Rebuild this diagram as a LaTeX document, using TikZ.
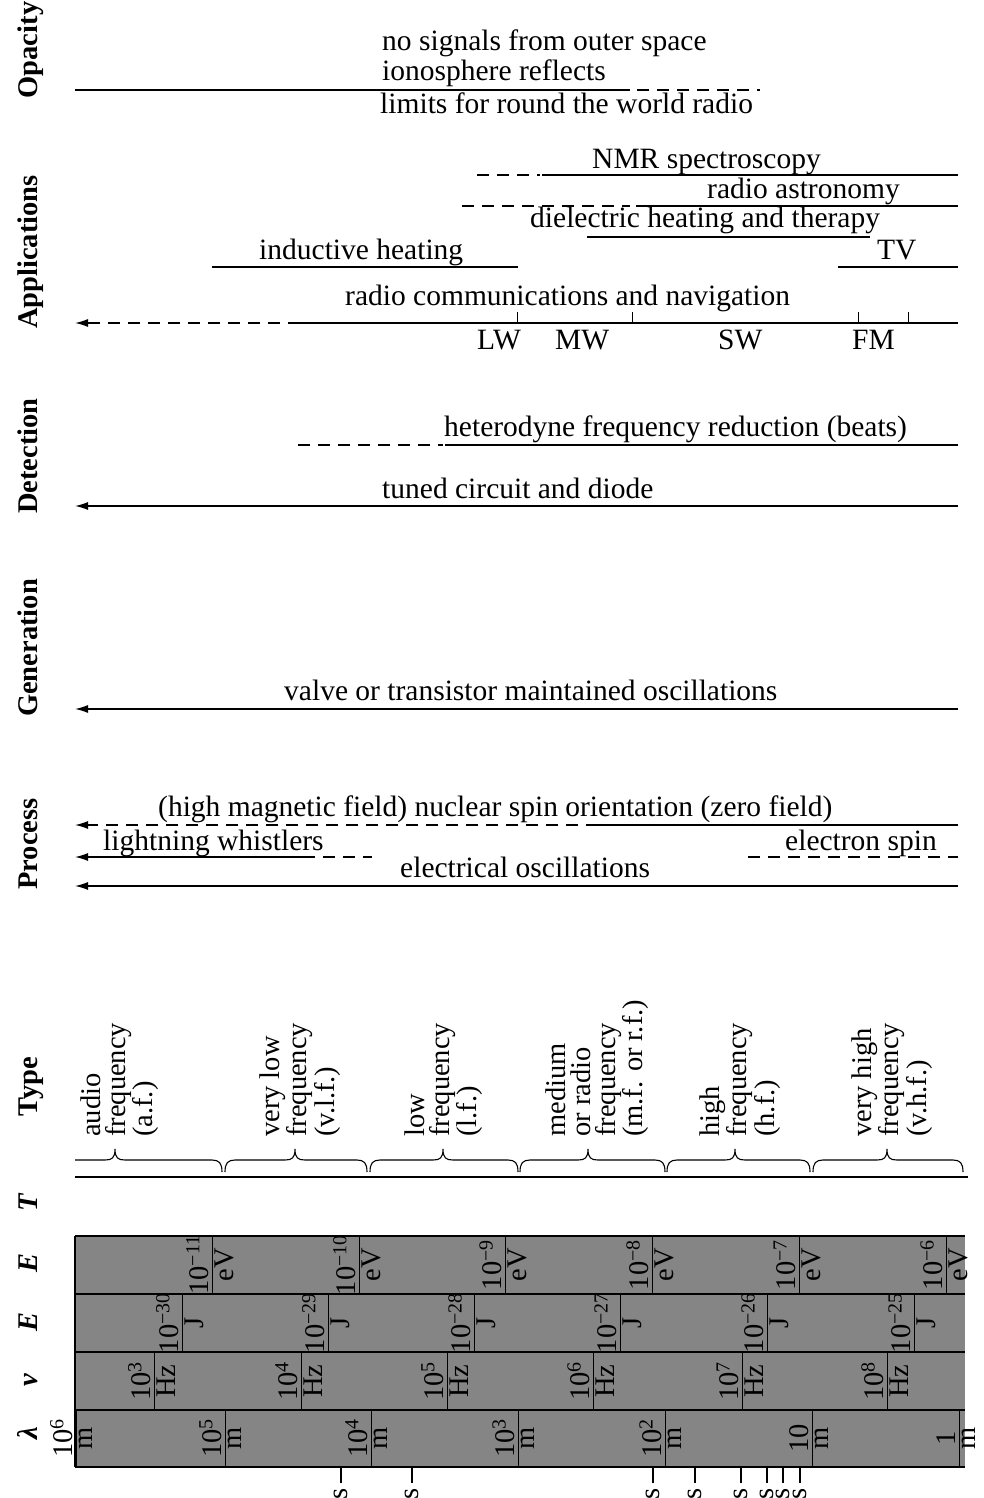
\documentclass[tikz,border=0pt]{standalone}
\usepackage{fontspec}
\setmainfont{Liberation Serif}
\usetikzlibrary{arrows.meta}
\newcommand\fsz{\fontsize{28.5pt}{25pt}\selectfont}
\newcommand\fbig{\fontsize{29.5pt}{25pt}\selectfont}
\newcommand\mybrace[3]{%
  \draw[brc] (#1,1172) .. controls (#1,1163) and (#1+3,1160) .. (#1+10,1160)
    -- (#2-10,1160) .. controls (#2-3,1160) and (#2,1158) .. (#2,1149)
    .. controls (#2,1158) and (#2+3,1160) .. (#2+10,1160)
    -- (#3-10,1160) .. controls (#3-3,1160) and (#3,1163) .. (#3,1172);}
\begin{document}
\begin{tikzpicture}[x=1pt,y=-1pt,
  every node/.style={inner sep=0pt,font=\fsz},
  txt/.style={anchor=base west,font=\fbig},
  ln/.style={line width=1.3pt},
  dsh/.style={line width=1.3pt,dash pattern=on 12pt off 8pt},
  arr/.style={-{Latex[length=13pt,width=8pt]}},
  side/.style={rotate=90,anchor=base,font=\fsz\bfseries},
  sym/.style={rotate=90,anchor=base,font=\fsz\bfseries\itshape},
  typ/.style={rotate=90,anchor=west,align=left},
  num/.style={rotate=90,anchor=south},
  unit/.style={rotate=90,anchor=north},
  brc/.style={line width=1.1pt},
  bandline/.style={line width=1.2pt},
]
\useasboundingbox[fill=white] (0,0) rectangle (983,1498);

% ---- side labels
\node[side] (lOp) at (37,50) {Opacity};
\node[side] (lAp) at (37,252) {Applications};
\node[side] (lDe) at (37,456) {Detection};
\node[side] (lGe) at (37,648) {Generation};
\node[side] (lPr) at (37,844) {Process};
\node[side] (lTy) at (37,1087) {Type};
\node[sym] (lT) at (37,1203) {T};
\node[sym] (lE1) at (37,1263) {E};
\node[sym] (lE2) at (37,1322) {E};
\node[sym] (lnu) at (37,1380) {ν};
\node[sym] (llam) at (37,1433) {λ};

% ---- Opacity
\node[txt] (o1) at (382,51) {no signals from outer space};
\node[txt] (o2) at (382,81) {ionosphere reflects};
\node[txt] (o3) at (380,114) {limits for round the world radio};
\draw[ln] (75,90) -- (630,90);
\draw[dsh] (637,90) -- (760,90);

% ---- Applications
\node[txt] (a1) at (592,168) {NMR spectroscopy};
\draw[dsh] (477,175) -- (540,175);
\draw[ln] (542,175) -- (958,175);
\node[txt] (a2) at (707,199) {radio astronomy};
\draw[dsh] (462,206) -- (630,206);
\draw[ln] (636,206) -- (958,206);
\node[txt] (a3) at (530,227) {dielectric heating and therapy};
\draw[ln] (587,237) -- (870,237);
\node[txt] (a4) at (259,259) {inductive heating};
\draw[ln] (212,267) -- (518,267);
\node[txt] (a5) at (877,259) {TV};
\draw[ln] (838,267) -- (958,267);
\node[txt] (a6) at (345,305) {radio communications and navigation};
\draw[dsh,arr] (300,323) -- (75,323);
\draw[ln] (300,323) -- (958,323);
\foreach \x in {517,632,858,908} \draw[line width=1pt] (\x,312) -- (\x,323);
\node[txt] (LW) at (477,349) {LW};
\node[txt] (MW) at (555,349) {MW};
\node[txt] (SW) at (718,349) {SW};
\node[txt] (FM) at (852,349) {FM};

% ---- Detection
\node[txt] (d1) at (444,436) {heterodyne frequency reduction (beats)};
\draw[dsh] (298,445) -- (443,445);
\draw[ln] (445,445) -- (958,445);
\node[txt] (d2) at (382,498) {tuned circuit and diode};
\draw[ln,arr] (958,506) -- (75,506);

% ---- Generation
\node[txt] (g1) at (284,700) {valve or transistor maintained oscillations};
\draw[ln,arr] (958,709) -- (75,709);

% ---- Process
\node[txt] (p1) at (158,816) {(high magnetic field) nuclear spin orientation (zero field)};
\draw[dsh,arr] (598,825) -- (75,825);
\draw[ln] (598,825) -- (958,825);
\node[txt] (p2) at (103,850) {lightning whistlers};
\draw[ln,arr] (315,857) -- (75,857);
\draw[dsh] (323,857) -- (372,857);
\node[txt] (p3) at (785,850) {electron spin};
\draw[dsh] (748,857) -- (958,857);
\node[txt] (p4) at (400,877) {electrical oscillations};
\draw[ln,arr] (958,886) -- (75,886);

% ---- Type
\node[typ] (t1) at (120,1137) {audio\\frequency\\(a.f.)};
\node[typ] (t2) at (300,1137) {very low\\frequency\\(v.l.f.)};
\node[typ] (t3) at (444,1137) {low\\frequency\\(l.f.)};
\node[typ] (t4) at (597,1137) {medium\\or radio\\frequency\\(m.f. or r.f.)};
\node[typ] (t5) at (740,1137) {high\\frequency\\(h.f.)};
\node[typ] (t6) at (892,1137) {very high\\frequency\\(v.h.f.)};
\draw[brc] (75,1160) -- (105,1160) .. controls (112,1160) and (115,1158) .. (115,1149)
    .. controls (115,1158) and (118,1160) .. (125,1160) -- (212,1160)
    .. controls (219,1160) and (222,1163) .. (222,1172);
\mybrace{225}{295}{367}
\mybrace{370}{443}{518}
\mybrace{520}{588}{665}
\mybrace{667}{735}{810}
\mybrace{813}{887}{963}
\draw[line width=1.2pt] (75,1177) -- (968,1177);

% ---- scale band
\fill[black!48] (75,1236) rectangle (965,1467);
\foreach \y in {1236,1294,1352,1410,1467} \draw[bandline] (75,\y) -- (965,\y);
\draw[bandline] (75,1236) -- (75,1467);
% row 1: eV
\foreach \x/\n in {212/11,359/10,505/9,652/8,799/7,946/6}{
  \draw[line width=1pt] (\x,1236) -- (\x,1294);
  \node[num] (ev\n) at (\x-3,1265) {10\textsuperscript{−\n}};
  \node[unit] (evu\n) at (\x+3,1265) {eV};}
% row 2: J
\foreach \x/\n in {182/30,328/29,474/28,620/27,767/26,914/25}{
  \draw[line width=1pt] (\x,1294) -- (\x,1352);
  \node[num] (j\n) at (\x-3,1323) {10\textsuperscript{−\n}};
  \node[unit] (ju\n) at (\x+3,1323) {J};}
% row 3: Hz
\foreach \x/\n in {154/3,301/4,447/5,593/6,742/7,887/8}{
  \draw[line width=1pt] (\x,1352) -- (\x,1410);
  \node[num] (hz\n) at (\x-3,1381) {10\textsuperscript{\n}};
  \node[unit] (hzu\n) at (\x+3,1381) {Hz};}
% row 4: m
\foreach \x/\t/\k in {76/10\textsuperscript{6}/a,225/10\textsuperscript{5}/b,371/10\textsuperscript{4}/c,518/10\textsuperscript{3}/d,665/10\textsuperscript{2}/e,812/10/f,959/1/g}{
  \draw[line width=1pt] (\x,1410) -- (\x,1467);
  \node[num] (m\k) at (\x-3,1438) {\t};
  \node[unit] (mu\k) at (\x+3,1438) {m};}

% ---- period ticks
\foreach \x in {341,412,653,695,741,767,783,800}{
  \draw[line width=1.1pt] (\x,1467) -- (\x,1483);
  \node[rotate=90,anchor=east] (s\x) at (\x,1488) {s};}
\end{tikzpicture}
\end{document}
